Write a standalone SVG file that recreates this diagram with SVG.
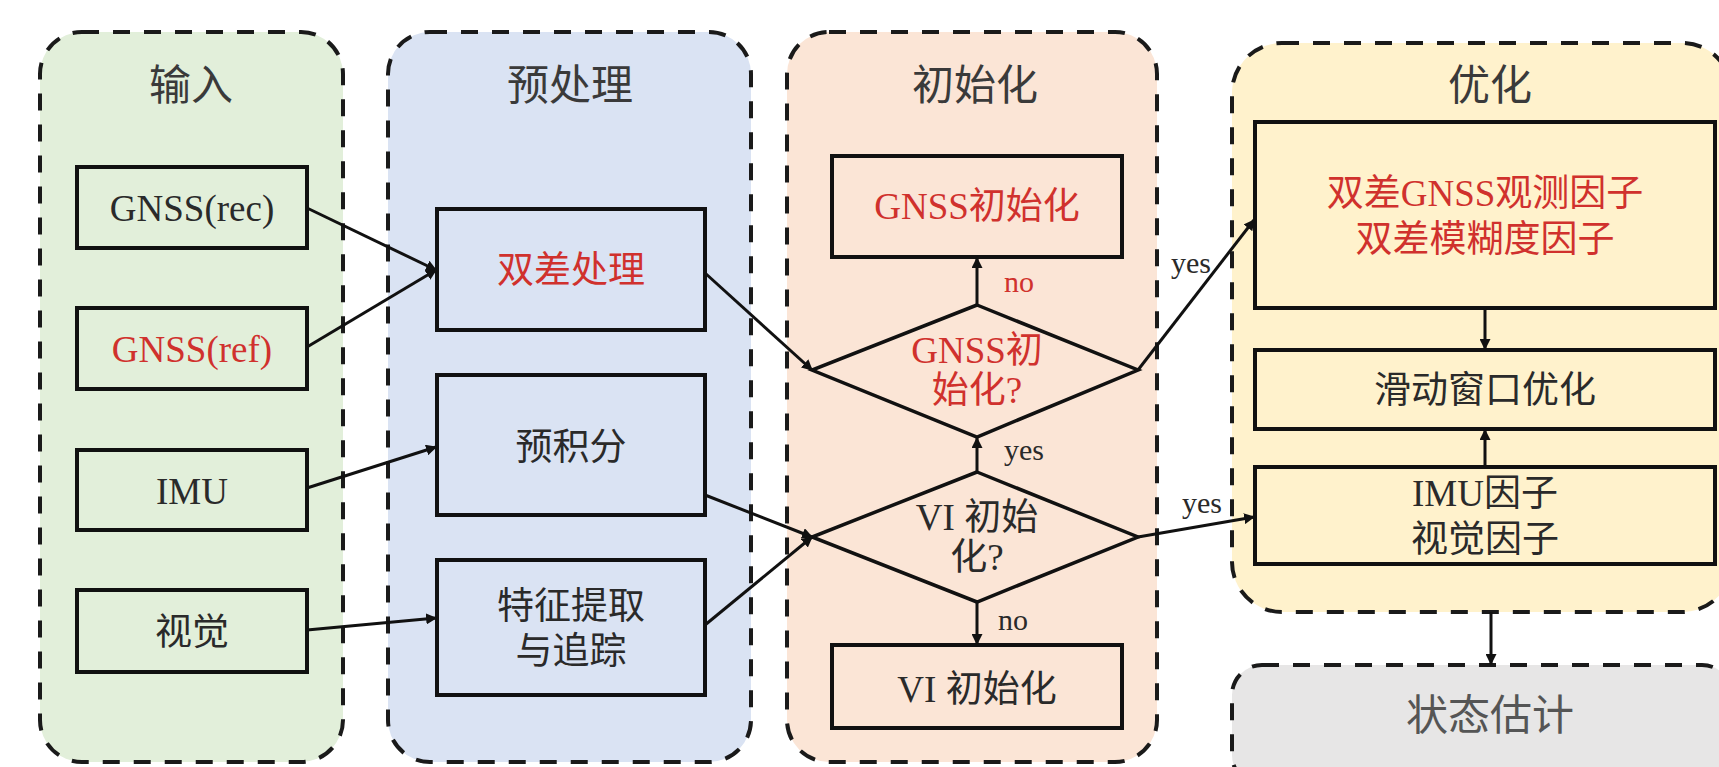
<svg xmlns="http://www.w3.org/2000/svg" width="1719" height="767" viewBox="0 0 1719 767">
<style>
.panel{stroke:#1a1a1a;stroke-width:4;stroke-dasharray:17 14}
.box{fill:none;stroke:#111;stroke-width:4}
.dia{fill:none;stroke:#111;stroke-width:3.5}
.conn{fill:none;stroke:#111;stroke-width:3}
text{font-family:"Liberation Serif","Noto Sans CJK SC",serif;text-anchor:middle;fill:#2a2a2a}
.title{font-size:42px;fill:#3a3a3a}
.lbl{font-size:37px}
.red{fill:#d0312d}
.small{font-size:30px}
</style>
<defs>
<marker id="arr" viewBox="0 0 10 10" refX="9" refY="5" markerWidth="11" markerHeight="11" markerUnits="userSpaceOnUse" orient="auto">
<path d="M0,0 L10,5 L0,10 z" fill="#111"/>
</marker>
</defs>
<rect width="1719" height="767" fill="#fff"/>

<g id="panel-input">
<rect class="panel" x="40" y="32" width="303" height="730" rx="42" fill="#e2efda"/>
<text class="title" x="191" y="100">输入</text>
</g>
<g id="panel-pre">
<rect class="panel" x="388" y="32" width="363" height="730" rx="42" fill="#dae3f3"/>
<text class="title" x="570" y="100">预处理</text>
</g>
<g id="panel-init">
<rect class="panel" x="787" y="32" width="370" height="730" rx="42" fill="#fbe5d6"/>
<text class="title" x="975" y="100">初始化</text>
</g>
<g id="panel-opt">
<rect class="panel" x="1232" y="43" width="500" height="569" rx="50" fill="#fff2cc"/>
<text class="title" x="1490" y="100">优化</text>
</g>
<g id="panel-state">
<rect class="panel" x="1232" y="665" width="500" height="120" rx="30" fill="#e7e6e6"/>
<text class="title" x="1490" y="730" style="fill:#555">状态估计</text>
</g>

<g id="n-gnss-rec"><rect class="box" x="77" y="167" width="230" height="81"/><text class="lbl" x="192" y="221">GNSS(rec)</text></g>
<g id="n-gnss-ref"><rect class="box" x="77" y="308" width="230" height="81"/><text class="lbl red" x="192" y="362">GNSS(ref)</text></g>
<g id="n-imu"><rect class="box" x="77" y="450" width="230" height="80"/><text class="lbl" x="192" y="504">IMU</text></g>
<g id="n-vision"><rect class="box" x="77" y="590" width="230" height="82"/><text class="lbl" x="192" y="645">视觉</text></g>

<g id="n-dd"><rect class="box" x="437" y="209" width="268" height="121"/><text class="lbl red" x="571" y="283">双差处理</text></g>
<g id="n-preint"><rect class="box" x="437" y="375" width="268" height="140"/><text class="lbl" x="571" y="460">预积分</text></g>
<g id="n-feat"><rect class="box" x="437" y="560" width="268" height="135"/><text class="lbl" x="571" y="619">特征提取</text><text class="lbl" x="571" y="664">与追踪</text></g>

<g id="n-gnss-init"><rect class="box" x="832" y="156" width="290" height="101"/><text class="lbl red" x="977" y="219">GNSS初始化</text></g>
<g id="n-dia1"><polygon class="dia" points="977,305 1138,370 977,437 812,370"/><text class="lbl red" x="977" y="363">GNSS初</text><text class="lbl red" x="977" y="403">始化?</text></g>
<g id="n-dia2"><polygon class="dia" points="977,472 1138,537 977,602 812,537"/><text class="lbl" x="977" y="530">VI 初始</text><text class="lbl" x="977" y="570">化?</text></g>
<g id="n-vi-init"><rect class="box" x="832" y="645" width="290" height="83"/><text class="lbl" x="977" y="702">VI 初始化</text></g>

<g id="n-ddfactor"><rect class="box" x="1255" y="122" width="460" height="186"/><text class="lbl red" x="1485" y="206">双差GNSS观测因子</text><text class="lbl red" x="1485" y="252">双差模糊度因子</text></g>
<g id="n-sw"><rect class="box" x="1255" y="350" width="460" height="79"/><text class="lbl" x="1485" y="403">滑动窗口优化</text></g>
<g id="n-imuf"><rect class="box" x="1255" y="467" width="460" height="97"/><text class="lbl" x="1485" y="506">IMU因子</text><text class="lbl" x="1485" y="552">视觉因子</text></g>

<g id="connectors">
<line class="conn" x1="307" y1="208" x2="436" y2="270" marker-end="url(#arr)"/>
<line class="conn" x1="307" y1="347" x2="436" y2="270" marker-end="url(#arr)"/>
<line class="conn" x1="307" y1="488" x2="436" y2="447" marker-end="url(#arr)"/>
<line class="conn" x1="307" y1="630" x2="436" y2="618" marker-end="url(#arr)"/>
<line class="conn" x1="705" y1="273" x2="812" y2="370" marker-end="url(#arr)"/>
<line class="conn" x1="705" y1="495" x2="812" y2="537" marker-end="url(#arr)"/>
<line class="conn" x1="705" y1="625" x2="812" y2="537" marker-end="url(#arr)"/>
<line class="conn" x1="977" y1="305" x2="977" y2="258" marker-end="url(#arr)"/>
<line class="conn" x1="977" y1="472" x2="977" y2="438" marker-end="url(#arr)"/>
<line class="conn" x1="977" y1="602" x2="977" y2="644" marker-end="url(#arr)"/>
<line class="conn" x1="1138" y1="370" x2="1254" y2="220" marker-end="url(#arr)"/>
<line class="conn" x1="1138" y1="537" x2="1254" y2="517" marker-end="url(#arr)"/>
<line class="conn" x1="1485" y1="308" x2="1485" y2="349" marker-end="url(#arr)"/>
<line class="conn" x1="1485" y1="467" x2="1485" y2="430" marker-end="url(#arr)"/>
<line class="conn" x1="1491" y1="612" x2="1491" y2="664" marker-end="url(#arr)"/>
<text class="small red" x="1019" y="292">no</text>
<text class="small" x="1024" y="460">yes</text>
<text class="small" x="1013" y="630">no</text>
<text class="small" x="1191" y="273">yes</text>
<text class="small" x="1202" y="513">yes</text>
</g>
</svg>
